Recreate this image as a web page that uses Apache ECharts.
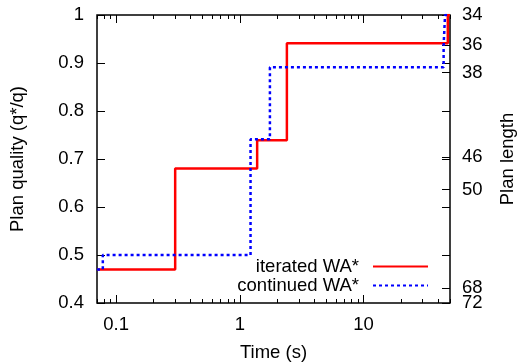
<!DOCTYPE html>
<html>
<head>
<meta charset="utf-8">
<script src="https://cdn.jsdelivr.net/npm/echarts@6/dist/echarts.min.js"></script>
<style>
  html, body { margin: 0; padding: 0; background: #fff; }
  #chart { width: 518px; height: 362px; }
</style>
</head>
<body>
<div id="chart"></div>
<script>
// iterated WA* : time at which the plan quality changed, and the new quality
const iteratedTime = [0.07, 0.3, 1.38, 2.4, 48, 50];
const iteratedQuality = [0.47, 0.68, 0.739, 0.941, 1.0, 1.0];

// continued WA*
const continuedTime = [0.07, 0.078, 1.22, 1.75, 44.4, 45.6, 50];
const continuedQuality = [0.47, 0.5, 0.741, 0.891, 0.937, 1.0, 1.0];

// axes
const timeMajor = [0.1, 1, 10];
const timeMinor = [0.07, 0.08, 0.09, 0.2, 0.3, 0.4, 0.5, 0.6, 0.7, 0.8, 0.9,
                   2, 3, 4, 5, 6, 7, 8, 9, 20, 30, 40, 50];
const qualityTicks = [0.4, 0.5, 0.6, 0.7, 0.8, 0.9, 1.0];
const planLengths = [34, 36, 38, 46, 50, 68, 72];

// right axis: quality position of a plan length (linear in 1/length, 34 at top, 72 at bottom)
const qTop = 1.0, qBottom = 0.4;
const lenTop = 34, lenBottom = 72;
const slope = (qTop - qBottom) / (1 / lenTop - 1 / lenBottom);
const offset = qTop - slope / lenTop;
const lengthPos = planLengths.map(l => Math.round((slope / l + offset) * 1e6) / 1e6);

const font = 'Liberation Sans';
const fs = 18.5;

function pair(xs, ys) {
    return xs.map((x, i) => [x, ys[i]]);
}

function lengthLabel(v) {
    let best = 0;
    lengthPos.forEach((p, i) => {
        if (Math.abs(p - v) < Math.abs(lengthPos[best] - v)) best = i;
    });
    return String(planLengths[best]);
}

function timeAxis(pos, ticks, len, labels) {
    return {
        type: 'log',
        position: pos,
        min: 0.07,
        max: 50,
        logBase: 10,
        axisLine: { show: false },
        splitLine: { show: false },
        axisTick: {
            show: true, inside: true, length: len,
            customValues: ticks,
            lineStyle: { color: '#000', width: 1 }
        },
        axisLabel: labels ? {
            show: true, customValues: timeMajor, margin: 12,
            color: '#000', fontFamily: font, fontSize: fs,
            formatter: v => String(v)
        } : { show: false },
        name: labels ? 'Time (s)' : '',
        nameLocation: 'middle',
        nameGap: 40,
        nameTextStyle: { color: '#000', fontFamily: font, fontSize: fs }
    };
}

// right side axis; the lowest label (72) sits on its own axis so it is not hidden by 68
function lengthAxis(labelValues, withTicks, withName) {
    return {
        type: 'value',
        position: 'right',
        min: 0.4, max: 1,
        axisLine: { show: false },
        splitLine: { show: false },
        axisTick: {
            show: withTicks, inside: true, length: 8,
            customValues: qualityTicks.concat(lengthPos),
            lineStyle: { color: '#000' }
        },
        axisLabel: {
            color: '#000', fontFamily: font, fontSize: fs, margin: 12,
            customValues: labelValues,
            showMinLabel: true, showMaxLabel: true,
            formatter: lengthLabel
        },
        name: withName ? 'Plan length' : '',
        nameLocation: 'middle',
        nameGap: 48,
        nameTextStyle: { color: '#000', fontFamily: font, fontSize: fs }
    };
}

const chart = echarts.init(document.getElementById('chart'), null, { renderer: 'canvas' });

const option = {
    backgroundColor: '#fff',
    animation: false,
    grid: {
        left: 97, right: 68, top: 15, bottom: 59,
        outerBoundsMode: 'none',
        containLabel: false,
        show: true, borderColor: '#000', borderWidth: 1.5,
        backgroundColor: 'transparent'
    },
    legend: {
        orient: 'vertical',
        align: 'right',
        right: 84,
        top: 252,
        itemWidth: 55,
        itemHeight: 14,
        itemGap: 0,
        itemStyle: { opacity: 0 },
        textStyle: { color: '#000', fontFamily: font, fontSize: fs, lineHeight: 19, padding: [0, 9, 0, 0] },
        data: ['iterated WA*', 'continued WA*']
    },
    xAxis: [
        timeAxis('bottom', timeMajor, 8, true),
        timeAxis('bottom', timeMinor, 4, false),
        timeAxis('top', timeMajor, 8, false),
        timeAxis('top', timeMinor, 4, false)
    ],
    yAxis: [
        {
            type: 'value',
            position: 'left',
            min: 0.4, max: 1, interval: 0.1,
            axisLine: { show: false },
            splitLine: { show: false },
            axisTick: { show: true, inside: true, length: 8, lineStyle: { color: '#000' } },
            axisLabel: {
                color: '#000', fontFamily: font, fontSize: fs, margin: 13,
                showMinLabel: true, showMaxLabel: true,
                formatter: v => String(Math.round(v * 10) / 10)
            },
            name: 'Plan quality (q*/q)',
            nameLocation: 'middle',
            nameGap: 70,
            nameTextStyle: { color: '#000', fontFamily: font, fontSize: fs }
        },
        lengthAxis(lengthPos.slice(0, -1), true, true),
        lengthAxis(lengthPos.slice(-1), false, false)
    ],
    series: [
        {
            name: 'iterated WA*',
            type: 'line',
            step: 'end',
            symbol: 'none',
            lineStyle: { color: '#ff0000', width: 2.5 },
            itemStyle: { color: '#ff0000' },
            data: pair(iteratedTime, iteratedQuality)
        },
        {
            name: 'continued WA*',
            type: 'line',
            step: 'end',
            symbol: 'none',
            lineStyle: { color: '#0000ff', width: 2.5, type: [3, 3] },
            itemStyle: { color: '#0000ff' },
            data: pair(continuedTime, continuedQuality)
        }
    ]
};

chart.setOption(option);
</script>
</body>
</html>
